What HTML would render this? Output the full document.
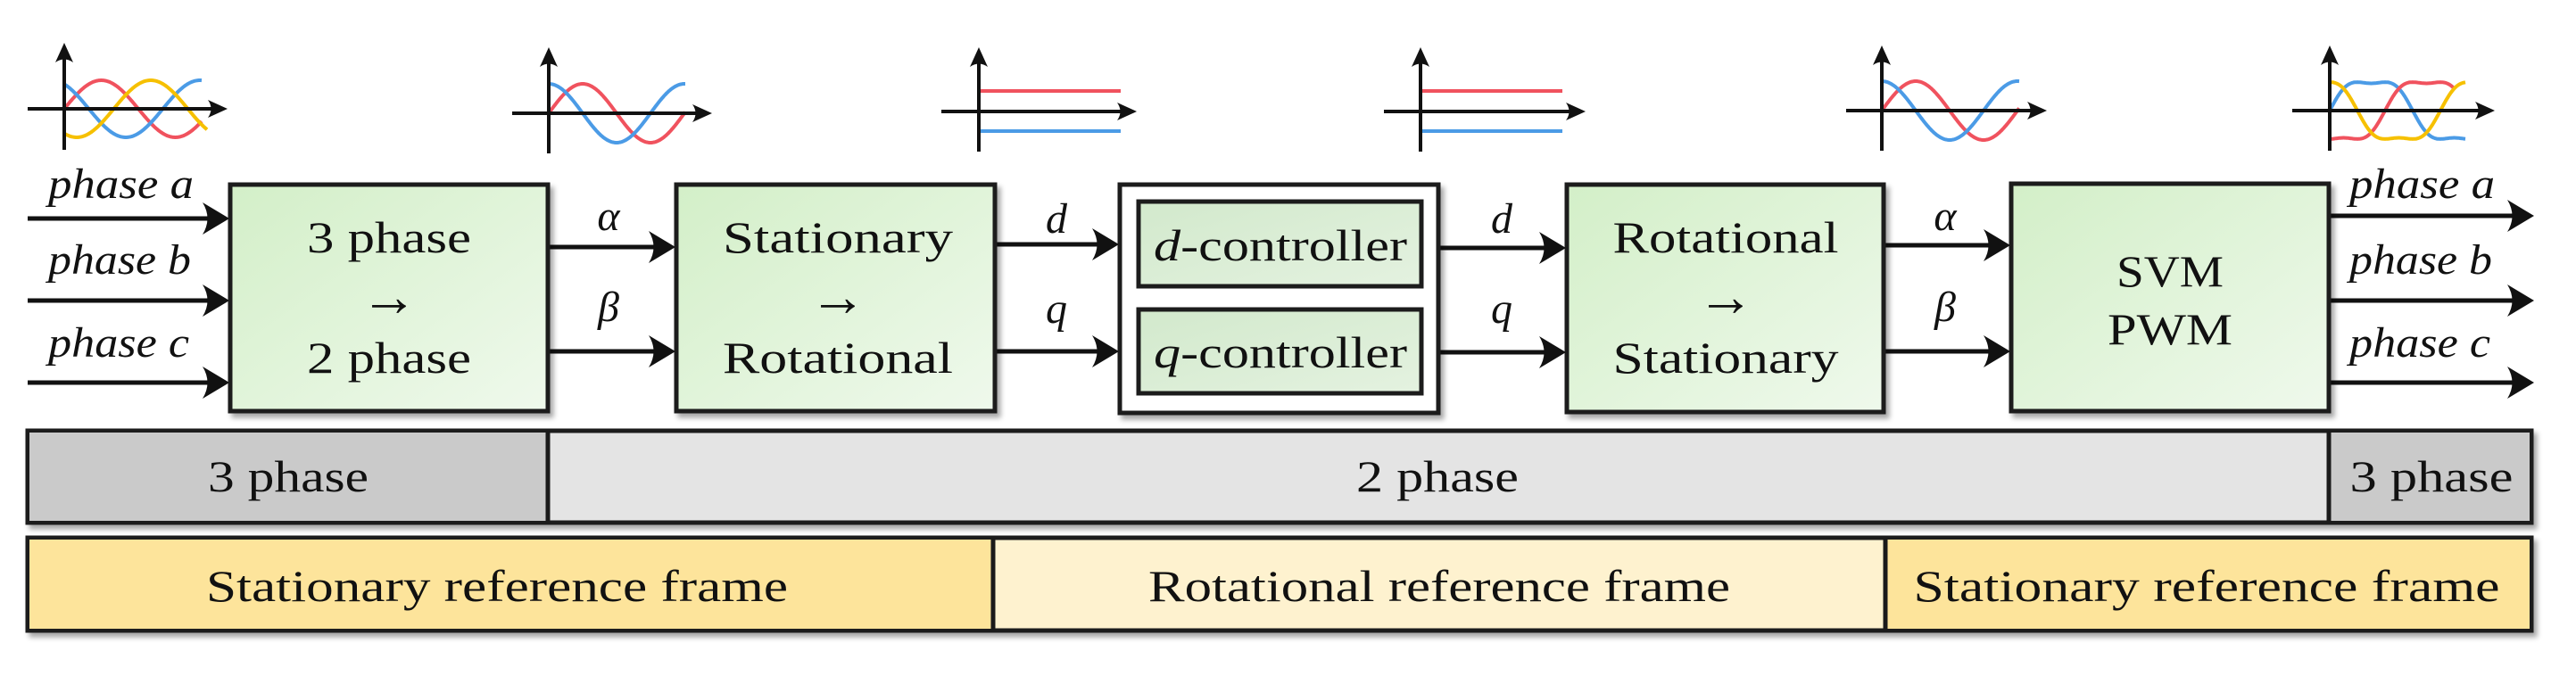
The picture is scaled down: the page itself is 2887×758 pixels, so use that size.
<!DOCTYPE html>
<html><head><meta charset="utf-8"><style>
html,body{margin:0;padding:0;background:#fff;}
svg{display:block;}
text{font-family:"Liberation Serif",serif;fill:#111;}
.it{font-style:italic;}
</style></head><body>
<svg id="s" width="2887" height="758" viewBox="0 0 2887 758" xmlns="http://www.w3.org/2000/svg">
<defs>
<linearGradient id="g" x1="0" y1="0" x2="1" y2="1">
<stop offset="0" stop-color="#d3efc8"/><stop offset="1" stop-color="#eff9ec"/></linearGradient>
<linearGradient id="g2" x1="0" y1="0" x2="1" y2="1">
<stop offset="0" stop-color="#d2e9cc"/><stop offset="1" stop-color="#e4f2e0"/></linearGradient>
<filter id="sh" x="-5%" y="-5%" width="115%" height="120%"><feDropShadow dx="4" dy="5" stdDeviation="3" flood-color="#000" flood-opacity="0.35"/></filter>
</defs>
<g id="waves"></g>
<g stroke="#111" stroke-width="5" fill="none" id="lines"></g>
<g fill="#111" id="heads"></g>

<g stroke="#1a1a1a" stroke-width="5" filter="url(#sh)">
<rect x="258" y="207" width="356" height="254" fill="url(#g)"/>
<rect x="758" y="207" width="357" height="254" fill="url(#g)"/>
<rect x="1255" y="207" width="357" height="256" fill="#fff"/>
<rect x="1276" y="226" width="317" height="95" fill="url(#g2)"/>
<rect x="1276" y="347" width="317" height="94" fill="url(#g2)"/>
<rect x="1756" y="207" width="355" height="255" fill="url(#g)"/>
<rect x="2254" y="206" width="356" height="255" fill="url(#g)"/>
<rect x="31" y="483" width="2806" height="103" fill="#e4e4e4"/>
<rect x="31" y="603" width="2806" height="104" fill="#fef2cf"/>
</g>
<rect x="33" y="485" width="581" height="99" fill="#cacaca"/>
<rect x="2610" y="485" width="225" height="99" fill="#cacaca"/>
<rect x="33" y="605" width="1080" height="100" fill="#fde49b"/>
<rect x="2113" y="605" width="722" height="100" fill="#fde49b"/>
<g stroke="#1a1a1a" stroke-width="5">
<line x1="614" y1="483" x2="614" y2="586"/>
<line x1="2610" y1="483" x2="2610" y2="586"/>
<line x1="1113" y1="603" x2="1113" y2="707"/>
<line x1="2113" y1="603" x2="2113" y2="707"/>
</g>

<g font-size="50" text-anchor="middle">
<text x="436" y="283" textLength="184" lengthAdjust="spacingAndGlyphs">3 phase</text>
<text x="436" y="354" font-size="64">→</text>
<text x="436" y="418" textLength="184" lengthAdjust="spacingAndGlyphs">2 phase</text>
<text x="939" y="283" textLength="258" lengthAdjust="spacingAndGlyphs">Stationary</text>
<text x="939" y="354" font-size="64">→</text>
<text x="939" y="418" textLength="258" lengthAdjust="spacingAndGlyphs">Rotational</text>
<text x="1934" y="283" textLength="253" lengthAdjust="spacingAndGlyphs">Rotational</text>
<text x="1934" y="354" font-size="64">→</text>
<text x="1934" y="418" textLength="253" lengthAdjust="spacingAndGlyphs">Stationary</text>
<text x="2432" y="321" textLength="120" lengthAdjust="spacingAndGlyphs">SVM</text>
<text x="2432" y="386" textLength="140" lengthAdjust="spacingAndGlyphs">PWM</text>
<text x="1435" y="292" textLength="284" lengthAdjust="spacingAndGlyphs"><tspan class="it">d</tspan>-controller</text>
<text x="1435" y="412" textLength="284" lengthAdjust="spacingAndGlyphs"><tspan class="it">q</tspan>-controller</text>
<text x="323" y="551" textLength="180" lengthAdjust="spacingAndGlyphs">3 phase</text>
<text x="1611" y="551" textLength="182" lengthAdjust="spacingAndGlyphs">2 phase</text>
<text x="2725" y="551" textLength="183" lengthAdjust="spacingAndGlyphs">3 phase</text>
<text x="557" y="674" textLength="652" lengthAdjust="spacingAndGlyphs">Stationary reference frame</text>
<text x="1613" y="674" textLength="652" lengthAdjust="spacingAndGlyphs">Rotational reference frame</text>
<text x="2473" y="674" textLength="657" lengthAdjust="spacingAndGlyphs">Stationary reference frame</text>
</g>
<g font-size="48" class="it">
<text x="54" y="222" textLength="163" lengthAdjust="spacingAndGlyphs">phase a</text>
<text x="54" y="307" textLength="160" lengthAdjust="spacingAndGlyphs">phase b</text>
<text x="54" y="400" textLength="158" lengthAdjust="spacingAndGlyphs">phase c</text>
<text x="2633" y="222" textLength="163" lengthAdjust="spacingAndGlyphs">phase a</text>
<text x="2633" y="307" textLength="160" lengthAdjust="spacingAndGlyphs">phase b</text>
<text x="2633" y="400" textLength="158" lengthAdjust="spacingAndGlyphs">phase c</text>
<text x="682" y="258" text-anchor="middle">α</text>
<text x="682" y="360" text-anchor="middle">β</text>
<text x="1184" y="261" text-anchor="middle">d</text>
<text x="1184" y="362" text-anchor="middle">q</text>
<text x="1683" y="261" text-anchor="middle">d</text>
<text x="1683" y="362" text-anchor="middle">q</text>
<text x="2180" y="258" text-anchor="middle">α</text>
<text x="2180" y="360" text-anchor="middle">β</text>
</g>
</svg>
<script>
var NS="http://www.w3.org/2000/svg";
var L=document.getElementById('lines'),H=document.getElementById('heads'),W=document.getElementById('waves');
function el(p,t,a){var e=document.createElementNS(NS,t);for(var k in a)e.setAttribute(k,a[k]);p.appendChild(e);return e;}
function arrowR(x1,x2,y,sw){el(L,'line',{x1:x1,y1:y,x2:x2-10,y2:y,'stroke-width':sw||5});
 el(H,'path',{d:'M'+x2+' '+y+' L'+(x2-30)+' '+(y-18)+' Q'+(x2-19)+' '+y+' '+(x2-30)+' '+(y+18)+' Z'});}
function arrowU(x,y1,y2){el(L,'line',{x1:x,y1:y1,x2:x,y2:y2+8,'stroke-width':4});
 el(H,'path',{d:'M'+x+' '+y2+' L'+(x-10)+' '+(y2+22)+' Q'+x+' '+(y2+15)+' '+(x+10)+' '+(y2+22)+' Z'});}
[245,337,429].forEach(function(y){arrowR(31,257,y);});
[242,337,429].forEach(function(y){arrowR(2610,2840,y);});
arrowR(614,757,277);arrowR(614,757,394);
arrowR(1115,1254,274);arrowR(1115,1254,394);
arrowR(1612,1755,278);arrowR(1612,1755,395);
arrowR(2111,2253,275);arrowR(2111,2253,394);
function axes(ax,x0,x1,yc,top,bot){
 el(L,'line',{x1:x0,y1:yc,x2:x1-8,y2:yc,'stroke-width':4});
 el(H,'path',{d:'M'+x1+' '+yc+' L'+(x1-22)+' '+(yc-10)+' Q'+(x1-15)+' '+yc+' '+(x1-22)+' '+(yc+10)+' Z'});
 arrowU(ax,bot,top);}
function wave(ax,x1,yc,amp,per,ph,col,flat){
 var d='';for(var x=ax;x<=x1;x+=1){var t=(x-ax)/per*2*Math.PI+ph;var v=Math.sin(t);if(flat)v=(Math.sin(t)+0.17*Math.sin(3*t))/0.87;
 d+=(x==ax?'M':'L')+x+' '+(yc-amp*v).toFixed(1)+' ';}
 el(W,'path',{d:d,fill:'none',stroke:col,'stroke-width':4});}
var R='#f0525e',B='#4b9be6',Y='#f6c000';
wave(72,226,122,32,166,0,R);wave(72,226,122,32,166,2.1,B);wave(72,232,122,32,166,-2.1,Y);
axes(72,31,255,122,48,168);
wave(615,768,127,33,152,0,R);wave(615,768,127,33,152,Math.PI/2,B);
axes(615,574,798,127,53,172);
el(W,'line',{x1:1097,y1:102,x2:1256,y2:102,stroke:R,'stroke-width':4});
el(W,'line',{x1:1097,y1:147,x2:1256,y2:147,stroke:B,'stroke-width':4});
axes(1097,1055,1274,125,53,170);
el(W,'line',{x1:1592,y1:102,x2:1751,y2:102,stroke:R,'stroke-width':4});
el(W,'line',{x1:1592,y1:147,x2:1751,y2:147,stroke:B,'stroke-width':4});
axes(1592,1551,1777,125,53,170);
wave(2109,2263,124,33,152,0,R);wave(2109,2263,124,33,152,Math.PI/2,B);
axes(2109,2069,2294,124,51,169);
wave(2611,2763,124,32,186,0,B,1);wave(2611,2750,124,32,186,-2.094,R,1);wave(2611,2763,124,32,186,2.094,Y,1);
axes(2611,2569,2796,124,51,169);
</script>
</body></html>
